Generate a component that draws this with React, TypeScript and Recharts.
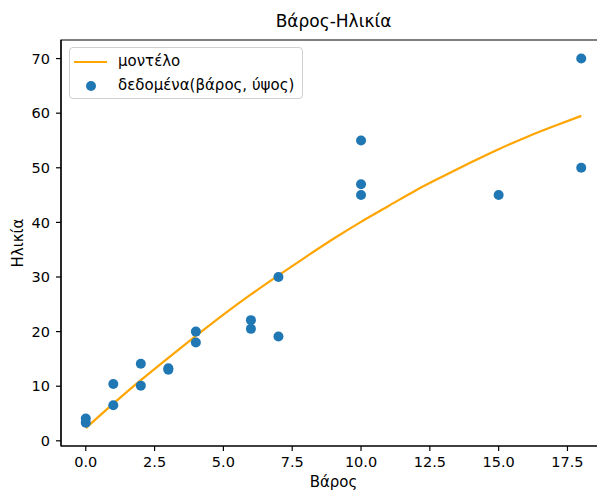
import React from 'react';
import { ComposedChart, Line, Scatter, XAxis, YAxis, ReferenceArea } from 'recharts';

// readings of the fitted curve (μοντέλο)
const modelX = [0, 1, 2, 3, 4, 5, 6, 7, 8, 9, 10, 11, 12, 13, 14, 15, 16, 17, 18];
const modelY = [2.3, 6.8, 11.1, 15.2, 19.2, 23.1, 26.8, 30.3, 33.7, 37.0, 40.1, 43.0, 45.9, 48.5, 51.0, 53.4, 55.6, 57.6, 59.5];

// observations (δεδομένα)
const dataX = [0, 0, 1, 1, 2, 2, 3, 3, 4, 4, 6, 6, 7, 7, 10, 10, 10, 15, 18, 18];
const dataY = [4.1, 3.3, 10.4, 6.5, 14.1, 10.1, 13.3, 13.0, 20, 18, 22.1, 20.5, 30, 19.1, 55, 47, 45, 45, 70, 50];

const xTicks = [0, 2.5, 5, 7.5, 10, 12.5, 15, 17.5];
const yTicks = [0, 10, 20, 30, 40, 50, 60, 70];

const FONT = '"DejaVu Sans", sans-serif';
const ORANGE = '#ffa500';
const BLUE = '#1f77b4';

export default function App() {
  const model = modelX.map((x, i) => ({ x, y: modelY[i] }));
  const points = dataX.map((x, i) => ({ x, y: dataY[i] }));

  return (
    <div style={{ position: 'fixed', left: 0, top: 0, width: 597, height: 492, overflow: 'hidden', background: '#fff', fontFamily: FONT }}>
      <ComposedChart width={620} height={492} margin={{ top: 40, right: 14, bottom: 0, left: 0 }}>
        <XAxis
          type="number" dataKey="x" domain={[-0.9, 18.9]} ticks={xTicks} allowDataOverflow
          height={46} tickSize={5} tickMargin={6}
          tickFormatter={(v: number) => v.toFixed(1)}
          axisLine={{ stroke: '#000', strokeWidth: 1.2 }} tickLine={{ stroke: '#000', strokeWidth: 1.2 }}
          tick={{ fill: '#000', fontSize: 14.5, fontFamily: FONT }}
        />
        <YAxis
          type="number" dataKey="y" domain={[-0.95, 73.4]} ticks={yTicks} allowDataOverflow
          width={61} tickSize={5} tickMargin={6}
          axisLine={{ stroke: '#000', strokeWidth: 1.2 }} tickLine={{ stroke: '#000', strokeWidth: 1.2 }}
          tick={{ fill: '#000', fontSize: 14.5, fontFamily: FONT }}
        />
        <ReferenceArea x1={-0.9} x2={18.9} y1={-0.95} y2={73.4} fill="none" stroke="#000" strokeWidth={1.2} ifOverflow="visible" />
        <Line data={model} dataKey="y" type="monotone" stroke={ORANGE} strokeWidth={2.2} dot={false} isAnimationActive={false} />
        <Scatter
          data={points} dataKey="y" fill={BLUE} isAnimationActive={false}
          shape={(p: any) => <circle cx={p.cx} cy={p.cy} r={5} fill={BLUE} />}
        />
      </ComposedChart>

      <div style={{ position: 'absolute', left: 0, width: 667, top: 11, textAlign: 'center', fontSize: 17, color: '#000' }}>
        Βάρος-Ηλικία
      </div>
      <div style={{ position: 'absolute', left: 0, width: 667, top: 473, textAlign: 'center', fontSize: 15, color: '#000' }}>
        Βάρος
      </div>
      <div style={{ position: 'absolute', left: 18, top: 243, transform: 'translate(-50%, -50%) rotate(-90deg)', fontSize: 15, color: '#000', whiteSpace: 'nowrap' }}>
        Ηλικία
      </div>

      <div style={{
        position: 'absolute', left: 69, top: 47, width: 232, height: 50,
        border: '1px solid #d0d0d0', borderRadius: 4, background: 'rgba(255,255,255,0.8)',
        fontSize: 15, color: '#000'
      }}>
        <div style={{ position: 'absolute', left: 4, top: 13, width: 33, height: 2.2, background: ORANGE }} />
        <div style={{ position: 'absolute', left: 48, top: 4, lineHeight: '18px', whiteSpace: 'nowrap' }}>μοντέλο</div>
        <div style={{ position: 'absolute', left: 16, top: 33, width: 10, height: 10, borderRadius: '50%', background: BLUE }} />
        <div style={{ position: 'absolute', left: 48, top: 28, lineHeight: '18px', whiteSpace: 'nowrap' }}>δεδομένα(βάρος, ύψος)</div>
      </div>
    </div>
  );
}
